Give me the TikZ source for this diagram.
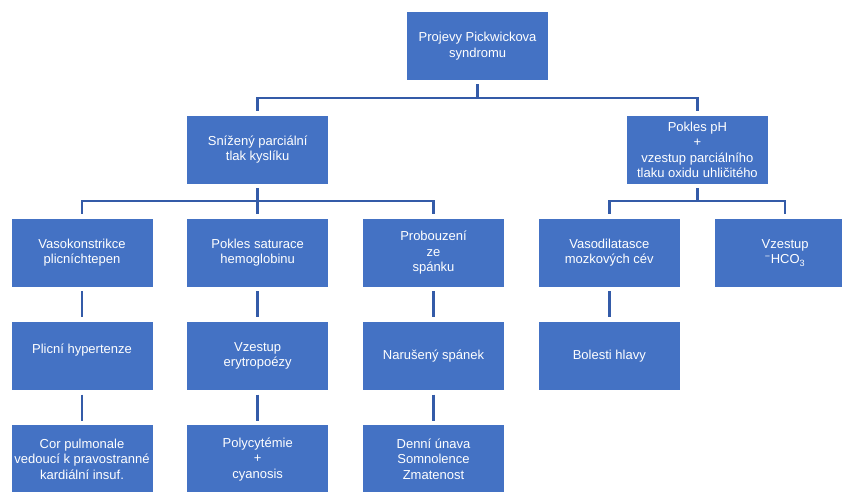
\documentclass[tikz,border=0pt]{standalone}
\usepackage{fontspec}
\setmainfont{Liberation Sans}
\definecolor{boxblue}{HTML}{4472C4}
\definecolor{linkblue}{RGB}{52,91,168}
\begin{document}
\begin{tikzpicture}[x=1pt,y=-1pt,
  box/.style={rectangle, fill=boxblue, draw=white, line width=0.6pt,
    minimum width=142pt, minimum height=69.5pt, inner sep=1pt,
    text=white, align=center, font=\fontsize{13}{15.5}\selectfont},
  conn/.style={draw=linkblue, line width=2.6pt, shorten <=3.5pt, shorten >=3.5pt}]
\clip (0,0) rectangle (842,491);
\fill[white] (0,0) rectangle (842,491);
% rows: centres y = 45.9, 149.6, 252.8, 356.0, 459.2
\node[box] (top)  at (477.6,45.9)  {Projevy Pickwickova\\syndromu};
\node[box] (sniz) at (257.7,149.6) {Snížený parciální\\tlak kyslíku};
\node[box] (ph)   at (697.4,149.6) {Pokles pH\\+\\vzestup parciálního\\tlaku oxidu uhličitého};
\node[box] (vaso) at (82.0,252.8)  {Vasokonstrikce\\plicníchtepen};
\node[box] (sat)  at (257.7,252.8) {Pokles saturace\\hemoglobinu};
\node[box] (prob) at (433.5,252.8) {Probouzení\\ze\\spánku};
\node[box] (vdil) at (609.3,252.8) {Vasodilatasce\\mozkových cév};
\node[box] (hco)  at (785.1,252.8) {Vzestup\\\textsuperscript{\char"2212}HCO\textsubscript{3}};
\node[box] (hyp)  at (82.0,356.0)  {Plicní hypertenze\\\mbox{}};
\node[box] (ery)  at (257.7,356.0) {Vzestup\\erytropoézy};
\node[box] (nar)  at (433.5,356.0) {Narušený spánek};
\node[box] (bol)  at (609.3,356.0) {Bolesti hlavy};
\node[box] (cor)  at (82.0,459.2)  {Cor pulmonale\\vedoucí k pravostranné\\kardiální insuf.};
\node[box] (poly) at (257.7,459.2) {Polycytémie\\+\\cyanosis};
\node[box] (den)  at (433.5,459.2) {Denní únava\\Somnolence\\Zmatenost};
% bus levels
\coordinate (bus0) at (0,98);
\coordinate (bus1) at (0,201);
\draw[conn] (top.south) -- (top.south |- bus0) -| (sniz.north);
\draw[conn] (top.south) -- (top.south |- bus0) -| (ph.north);
\draw[conn] (sniz.south) -- (sniz.south |- bus1) -| (vaso.north);
\draw[conn] (sniz.south) -- (sniz.south |- bus1) -| (sat.north);
\draw[conn] (sniz.south) -- (sniz.south |- bus1) -| (prob.north);
\draw[conn] (ph.south) -- (ph.south |- bus1) -| (vdil.north);
\draw[conn] (ph.south) -- (ph.south |- bus1) -| (hco.north);
\draw[conn] (vaso.south) -- (hyp.north);
\draw[conn] (hyp.south) -- (cor.north);
\draw[conn] (sat.south) -- (ery.north);
\draw[conn] (ery.south) -- (poly.north);
\draw[conn] (prob.south) -- (nar.north);
\draw[conn] (nar.south) -- (den.north);
\draw[conn] (vdil.south) -- (bol.north);
\end{tikzpicture}
\end{document}
